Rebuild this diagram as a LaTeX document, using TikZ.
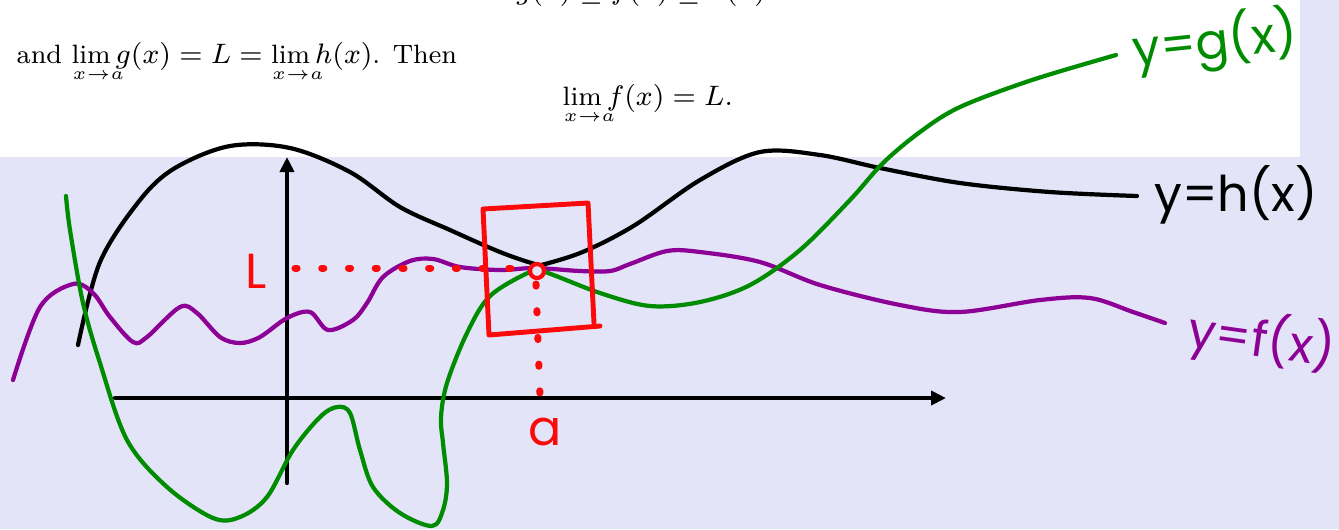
\documentclass[tikz,border=0pt]{standalone}
\usepackage{amsmath,amssymb,mathtools}
\usepackage{fontspec}
\newfontfamily\handfont{Poppins}
\usepackage{xcolor}
\usetikzlibrary{arrows.meta}
\definecolor{lavbg}{RGB}{228,228,248}
\definecolor{gcol}{RGB}{0,140,0}
\definecolor{fcol}{RGB}{140,0,150}
\definecolor{acol}{RGB}{250,10,10}
\newcommand{\limxa}{\lim\limits_{\mathrlap{\kern-0.694em x\to a}}}

\begin{document}
\begin{tikzpicture}[x=0.01cm, y=-0.01cm, line cap=round, line join=round,
    every node/.style={inner sep=0pt},
    thm/.style={font=\fontsize{7.55}{9.5}\selectfont},
    curve/.style={line width=1.2pt, smooth, tension=0.55},
    axis/.style={line width=1.2pt, -{Triangle[length=0.15cm,width=0.14cm]}},
    hand/.style={font=\handfont\fontsize{14}{14}\selectfont},
    dots/.style={acol, line width=2pt, dash pattern=on 0.6pt off 7pt}]
    \useasboundingbox (0,0) rectangle (1339,529);
    \clip (0,0) rectangle (1339,529);
    % backgrounds
    \fill[lavbg] (0,0) rectangle (1339,529);
    \fill[white] (0,0) rectangle (1300,157);
    % theorem text
    \node[thm, anchor=base] (ineq) at (641,-1) {$g(x)\le f(x)\le h(x)$};
    \node[thm, anchor=base west] (cond) at (16,63) {and $\limxa g(x)=L=\limxa h(x)$. Then};
    \node[thm, anchor=base west] (concl) at (562,105) {$\limxa f(x)=L.$};
    % axes
    \draw[axis] (287,483) -- (287,157);
    \draw[axis] (115,398) -- (946,398);
    % y = h(x)
    \draw[curve] plot coordinates {(78,345) (100,262) (140,200) (175,168) (230,146) (290,148) (350,172) (400,207) (450,230) (500,252) (535,264) (545,264) (585,251) (635,225) (700,180) (760,152) (820,155) (880,168) (960,183) (1050,192) (1137,196)};
    % y = f(x)
    \draw[curve, fcol] plot coordinates {(13,380) (40,307) (73,284) (93,293) (110,317) (133,342) (147,337) (180,307) (197,313) (220,337) (240,343) (260,337) (287,318) (310,312) (328,330) (353,320) (367,303) (383,277) (410,261) (433,259) (460,267) (500,270) (535,268) (580,271) (610,271) (630,264) (667,251) (700,252) (760,262) (820,285) (900,305) (960,312) (1040,300) (1090,298) (1133,312) (1165,323)};
    % y = g(x)
    \draw[curve, gcol] plot coordinates {(66,196) (70,230) (83,303) (100,363) (127,440) (167,487) (213,518) (240,517) (267,497) (293,450) (320,417) (337,407) (350,413) (360,450) (373,487) (400,513) (432,526) (443,510) (447,483) (443,443) (441,417) (447,383) (467,333) (490,296) (530,272) (545,272) (600,293) (650,306) (700,302) (750,285) (800,250) (850,200) (883,163) (920,132) (960,107) (1032,80) (1116,55)};
    % limit window
    \draw[acol, line width=1.4pt] (483,209) -- (588,203) -- (594,323) (600,326) -- (489,335) -- (483,209);
    \draw[dots] (295,268) -- (520,268);
    \draw[dots] (536,284) -- (540,398);
    \draw[acol, line width=1.2pt, fill=lavbg] (537,271) circle (7);
    % labels
    \node[hand, acol] (Llab) at (256,271) {L};
    \node[hand, acol] (alab) at (545,432) {a};
    \node[hand] (hlab) at (1236,195) {y=h(x)};
    \node[hand, fcol, rotate=-8] (flab) at (1262,340) {y=f(x)};
    \node[hand, gcol, rotate=6] (glab) at (1215,42) {y=g(x)};
\end{tikzpicture}
\end{document}
